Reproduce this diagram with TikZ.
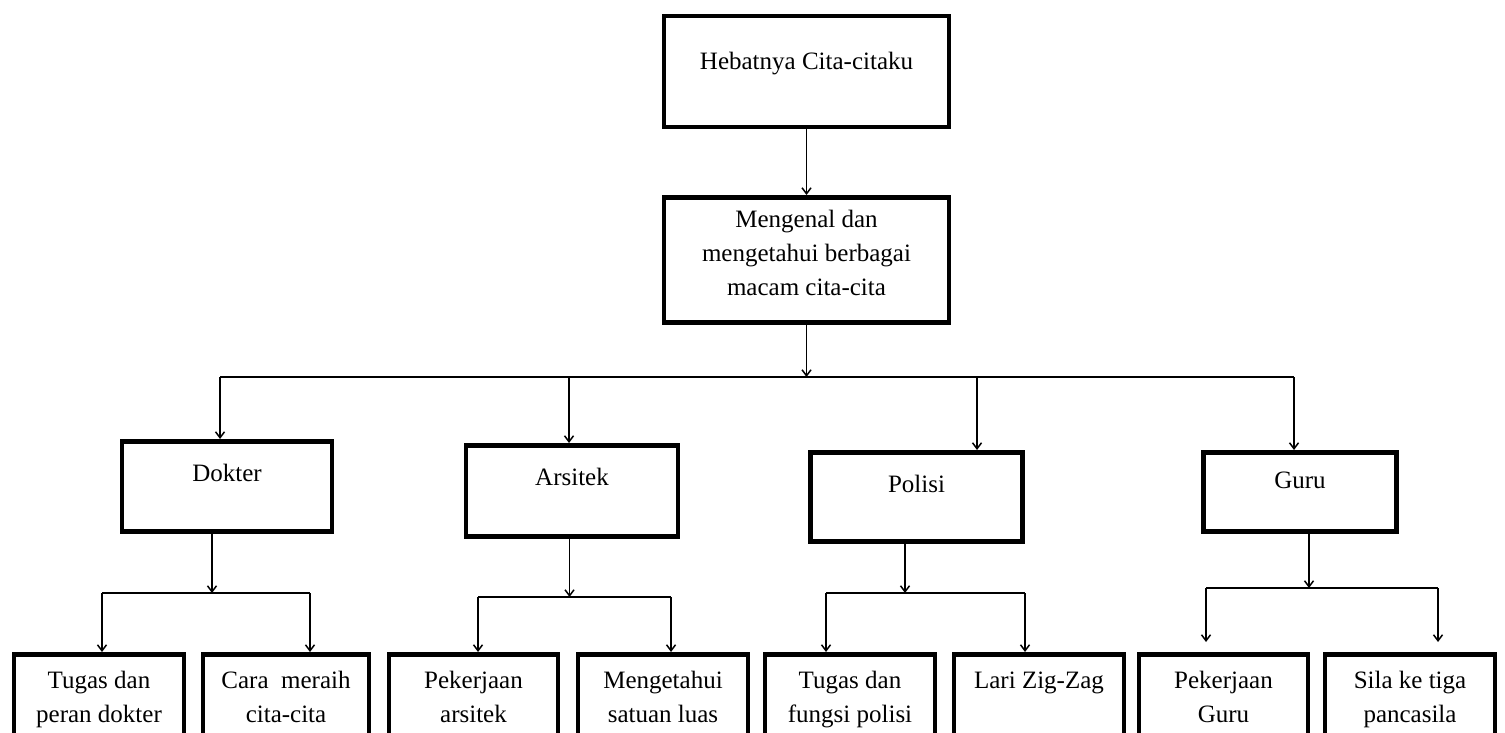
\documentclass[tikz,border=0pt]{standalone}
\usepackage{fontspec}
\setmainfont{Liberation Serif}
\usetikzlibrary{arrows.meta}
\tikzstyle{box} = [rectangle, draw=black, line width=4.5pt, align=center, anchor=north, inner xsep=0pt, inner ysep=0pt, font=\fontsize{25}{34}\selectfont]
\tikzstyle{arrow} = [line width=1.5pt, -{Straight Barb[length=6pt,width=9pt]}]
\tikzstyle{link} = [line width=1.5pt]

\begin{document}
\begin{tikzpicture}[x=1pt, y=-1pt]

\path[use as bounding box, fill=white] (0,0) rectangle (1505,733);
\clip (0,0) rectangle (1505,733);

% Top boxes
\node (hebat) [box, minimum width=285pt, text height=53pt, text depth=58pt] at (806.5,14) {Hebatnya Cita-citaku};
\node (kenal) [box, minimum width=285pt, text height=98pt, text depth=27pt] at (806.5,195) {Mengenal dan\\mengetahui berbagai\\macam cita-cita};

% Cita-cita
\node (dokter) [box, minimum width=210pt, text height=40pt, text depth=50pt] at (227,439) {Dokter};
\node (arsitek) [box, minimum width=212pt, text height=40pt, text depth=51pt] at (572,443) {Arsitek};
\node (polisi) [box, minimum width=212pt, text height=40pt, text depth=49pt] at (916.5,450) {Polisi};
\node (guru) [box, minimum width=193pt, text height=36pt, text depth=43pt] at (1300,450) {Guru};

% Bottom row
\node (tugasDokter) [box, minimum width=170pt, text height=68pt, text depth=26pt] at (99,652) {Tugas dan\\peran dokter};
\node (caraMeraih) [box, minimum width=166pt, text height=68pt, text depth=26pt] at (286,652) {Cara\ \ meraih\\cita-cita};
\node (kerjaArsitek) [box, minimum width=169pt, text height=68pt, text depth=26pt] at (473.5,652) {Pekerjaan\\arsitek};
\node (satuanLuas) [box, minimum width=170pt, text height=68pt, text depth=26pt] at (663,652) {Mengetahui\\satuan luas};
\node (tugasPolisi) [box, minimum width=170pt, text height=68pt, text depth=26pt] at (850,652) {Tugas dan\\fungsi polisi};
\node (zigzag) [box, minimum width=170pt, text height=34pt, text depth=60pt] at (1039,652) {Lari Zig-Zag};
\node (kerjaGuru) [box, minimum width=169pt, text height=68pt, text depth=26pt] at (1223.5,652) {Pekerjaan\\Guru};
\node (silaTiga) [box, minimum width=170pt, text height=68pt, text depth=26pt] at (1410,652) {Sila ke tiga\\pancasila};

% Junctions
\coordinate (pusat) at (806.5,377);
\coordinate (jDokter) at (220,377);
\coordinate (jArsitek) at (569,377);
\coordinate (jPolisi) at (977,377);
\coordinate (jGuru) at (1294,377);

\coordinate (dokterM) at (212,593);
\coordinate (dokterL) at (102,593);
\coordinate (dokterR) at (310,593);
\coordinate (arsitekM) at (569.5,597);
\coordinate (arsitekL) at (478,597);
\coordinate (arsitekR) at (671,597);
\coordinate (polisiM) at (905,593);
\coordinate (polisiL) at (826,593);
\coordinate (polisiR) at (1025,593);
\coordinate (guruM) at (1309,588);
\coordinate (guruL) at (1206,588);
\coordinate (guruR) at (1438,588);

% Arrows
\draw [arrow] (hebat) -- (kenal);
\draw [arrow] (kenal) -- (pusat);
\draw [link] (jDokter) -- (jGuru);
\draw [arrow] (jDokter) -- (jDokter |- dokter.north);
\draw [arrow] (jArsitek) -- (jArsitek |- arsitek.north);
\draw [arrow] (jPolisi) -- (jPolisi |- polisi.north);
\draw [arrow] (jGuru) -- (jGuru |- guru.north);

\draw [arrow] (dokter.south -| dokterM) -- (dokterM);
\draw [link] (dokterL) -- (dokterR);
\draw [arrow] (dokterL) -- (dokterL |- tugasDokter.north);
\draw [arrow] (dokterR) -- (dokterR |- caraMeraih.north);

\draw [arrow] (arsitek.south -| arsitekM) -- (arsitekM);
\draw [link] (arsitekL) -- (arsitekR);
\draw [arrow] (arsitekL) -- (arsitekL |- kerjaArsitek.north);
\draw [arrow] (arsitekR) -- (arsitekR |- satuanLuas.north);

\draw [arrow] (polisi.south -| polisiM) -- (polisiM);
\draw [link] (polisiL) -- (polisiR);
\draw [arrow] (polisiL) -- (polisiL |- tugasPolisi.north);
\draw [arrow] (polisiR) -- (polisiR |- zigzag.north);

\draw [arrow] (guru.south -| guruM) -- (guruM);
\draw [link] (guruL) -- (guruR);
\draw [arrow, shorten >=10pt] (guruL) -- (guruL |- kerjaGuru.north);
\draw [arrow, shorten >=10pt] (guruR) -- (guruR |- silaTiga.north);

\end{tikzpicture}
\end{document}
